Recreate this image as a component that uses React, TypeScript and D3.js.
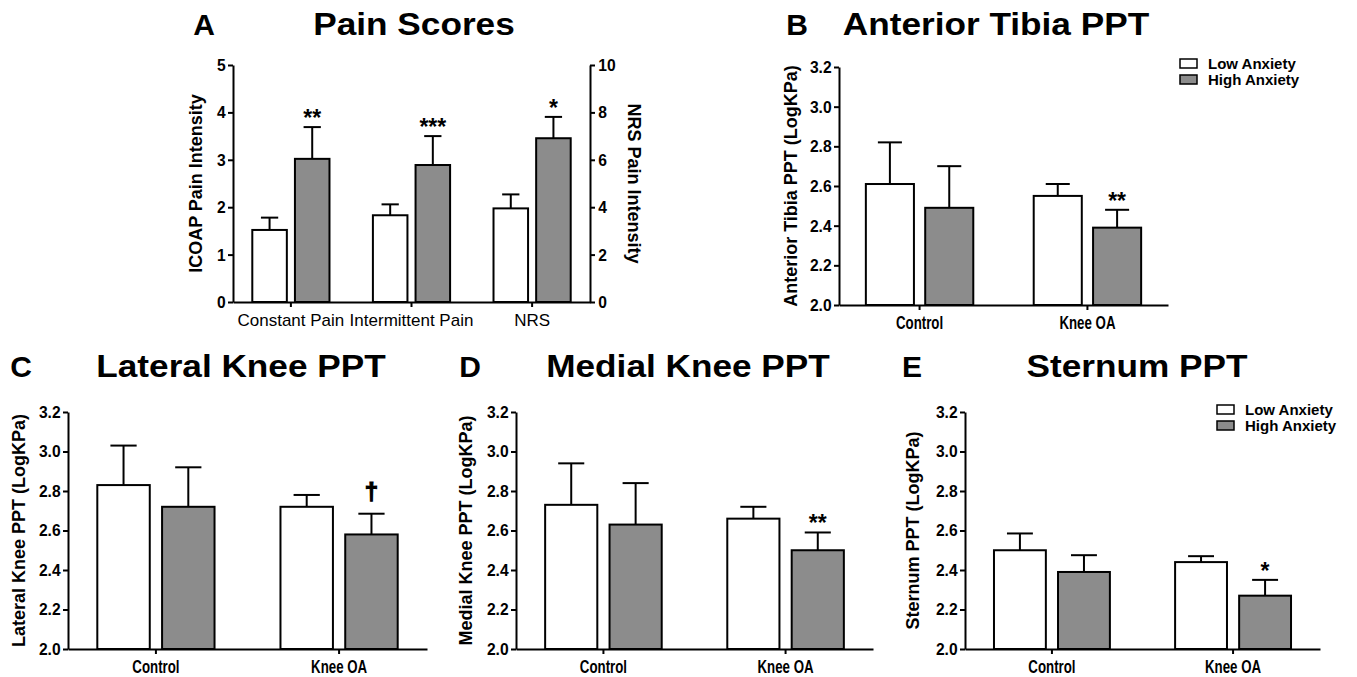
import React, { useEffect, useRef } from 'react';
import * as d3 from 'd3';

const WIDTH = 1357;
const HEIGHT = 677;
const FONT = '"Liberation Sans", Arial, Helvetica, sans-serif';
const GREY = '#8c8c8c';

const seriesNames = ['Low Anxiety', 'High Anxiety'];

// Panel A - pain scores (NRS is on the right-hand 0-10 axis)
const painCategories = ['Constant Pain', 'Intermittent Pain', 'NRS'];
const painLowMean = [1.52, 1.83, 3.95];
const painLowSem = [0.26, 0.23, 0.59];
const painHighMean = [3.02, 2.89, 6.91];
const painHighSem = [0.67, 0.61, 0.9];
const painSig = ['**', '***', '*'];
const icoapTicks = [0, 1, 2, 3, 4, 5];
const nrsTicks = [0, 2, 4, 6, 8, 10];

// Panels B-E - pressure pain thresholds
const groups = ['Control', 'Knee OA'];
const pptTicks = [2.0, 2.2, 2.4, 2.6, 2.8, 3.0, 3.2];

const tibiaLow = [2.61, 2.55];
const tibiaLowSem = [0.21, 0.06];
const tibiaHigh = [2.49, 2.39];
const tibiaHighSem = [0.21, 0.09];
const tibiaSig = ['', '**'];

const latLow = [2.83, 2.72];
const latLowSem = [0.2, 0.06];
const latHigh = [2.72, 2.58];
const latHighSem = [0.2, 0.105];
const latSig = ['', '†'];

const medLow = [2.73, 2.66];
const medLowSem = [0.21, 0.06];
const medHigh = [2.63, 2.5];
const medHighSem = [0.21, 0.09];
const medSig = ['', '**'];

const sternLow = [2.5, 2.44];
const sternLowSem = [0.085, 0.03];
const sternHigh = [2.39, 2.27];
const sternHighSem = [0.085, 0.08];
const sternSig = ['', '*'];

type PanelOpts = {
  x0: number; x1: number; top: number; bottom: number;
  categories: string[];
  low: number[]; lowSem: number[]; high: number[]; highSem: number[];
  sig: string[];
  yScale: d3.ScaleLinear<number, number>;
  yFor?: (i: number) => d3.ScaleLinear<number, number>;
  ticks: number[];
  tickFmt: (d: number) => string;
  yLabel: string; yLabelX: number;
  letter: string; letterX: number;
  title: string; titleX: number; titleY: number;
  boldCats: boolean;
  legend?: { x: number; y: number };
};

function styleTicks(axis: any, dx: number) {
  axis.select('.domain').attr('stroke-width', 2);
  axis.selectAll('.tick line').attr('stroke-width', 2);
  axis.selectAll('text')
    .attr('x', dx)
    .attr('transform', 'scale(0.92,1)')
    .style('font-family', FONT).style('font-weight', 'bold').style('font-size', '17px');
}

function drawPanel(svg: d3.Selection<SVGSVGElement, unknown, null, undefined>, o: PanelOpts) {
  const g = svg.append('g');
  const xGroup = d3.scaleBand().domain(o.categories).range([o.x0, o.x1]).paddingInner(0.36).paddingOuter(0.16);
  const xSeries = d3.scaleBand().domain(seriesNames).range([0, xGroup.bandwidth()]).paddingInner(0.19);
  const bw = xSeries.bandwidth();

  const rows = o.categories.flatMap((c, i) => [
    { cat: c, i, s: seriesNames[0], mean: o.low[i], sem: o.lowSem[i], mark: '' },
    { cat: c, i, s: seriesNames[1], mean: o.high[i], sem: o.highSem[i], mark: o.sig[i] },
  ]);
  const yOf = (i: number) => (o.yFor ? o.yFor(i) : o.yScale);
  const cx = (d: any) => (xGroup(d.cat) as number) + (xSeries(d.s) as number) + bw / 2;

  // error bars (upper only) go under the bar outline
  g.selectAll('.err').data(rows).enter().append('line')
    .attr('x1', cx).attr('x2', cx)
    .attr('y1', d => yOf(d.i)(d.mean)).attr('y2', d => yOf(d.i)(d.mean + d.sem))
    .attr('stroke', '#000').attr('stroke-width', 2);
  g.selectAll('.cap').data(rows).enter().append('line')
    .attr('x1', d => cx(d) - bw / 4).attr('x2', d => cx(d) + bw / 4)
    .attr('y1', d => yOf(d.i)(d.mean + d.sem)).attr('y2', d => yOf(d.i)(d.mean + d.sem))
    .attr('stroke', '#000').attr('stroke-width', 2);

  g.selectAll('.bar').data(rows).enter().append('rect')
    .attr('x', d => (xGroup(d.cat) as number) + (xSeries(d.s) as number))
    .attr('y', d => yOf(d.i)(d.mean))
    .attr('width', bw)
    .attr('height', d => o.bottom - yOf(d.i)(d.mean))
    .attr('fill', d => (d.s === seriesNames[0] ? '#fff' : GREY))
    .attr('stroke', '#000').attr('stroke-width', 2);

  // significance marks
  g.selectAll('.sig').data(rows.filter(d => d.mark)).enter().append('text')
    .attr('x', cx)
    .attr('y', d => yOf(d.i)(d.mean + d.sem) - (d.mark === '†' ? 14 : 1))
    .attr('text-anchor', 'middle')
    .style('font-family', FONT).style('font-weight', 'bold')
    .style('font-size', d => (d.mark === '†' ? '24px' : '23px'))
    .attr('stroke', d => (d.mark === '†' ? '#000' : 'none'))
    .attr('stroke-width', 1.2)
    .text(d => d.mark);

  // y axis
  const yAxis = g.append('g').attr('transform', `translate(${o.x0},0)`)
    .call(d3.axisLeft(o.yScale).tickValues(o.ticks).tickFormat(o.tickFmt as any).tickSize(5).tickSizeOuter(0));
  styleTicks(yAxis, -8);

  // x axis
  const xAxis = g.append('g').attr('transform', `translate(0,${o.bottom})`)
    .call(d3.axisBottom(xGroup).tickSize(5).tickSizeOuter(0));
  xAxis.select('.domain').attr('stroke-width', 2);
  xAxis.selectAll('.tick line').attr('stroke-width', 2);
  xAxis.selectAll('text')
    .attr('y', o.boldCats ? 11 : 12).attr('dy', '0.71em')
    .style('font-family', FONT)
    .style('font-weight', o.boldCats ? 'bold' : 'normal')
    .style('font-size', o.boldCats ? '19px' : '17px')
    .attr('transform', o.boldCats ? 'scale(0.7,1)' : null);

  // y label
  g.append('text')
    .attr('transform', `translate(${o.yLabelX},${(o.top + o.bottom) / 2}) rotate(-90)`)
    .attr('text-anchor', 'middle')
    .style('font-family', FONT).style('font-weight', 'bold').style('font-size', '18px')
    .text(o.yLabel);

  // letter + title
  g.append('text').attr('x', o.letterX).attr('y', o.titleY)
    .attr('text-anchor', 'middle')
    .style('font-family', FONT).style('font-weight', 'bold').style('font-size', '30px')
    .text(o.letter);
  g.append('text').attr('transform', `translate(${o.titleX},${o.titleY}) scale(1.1,1)`)
    .attr('text-anchor', 'middle')
    .style('font-family', FONT).style('font-weight', 'bold').style('font-size', '32px')
    .text(o.title);

  if (o.legend) {
    const lg = g.append('g').attr('transform', `translate(${o.legend.x},${o.legend.y})`);
    seriesNames.forEach((s, i) => {
      lg.append('rect').attr('x', 0).attr('y', i * 16 - 10).attr('width', 17).attr('height', 9)
        .attr('fill', i === 0 ? '#fff' : GREY).attr('stroke', '#000').attr('stroke-width', 1.5);
      lg.append('text').attr('x', 28).attr('y', i * 16)
        .style('font-family', FONT).style('font-weight', 'bold').style('font-size', '15px')
        .text(s);
    });
  }
  return g;
}

const App: React.FC = () => {
  const svgRef = useRef<SVGSVGElement>(null);

  useEffect(() => {
    if (!svgRef.current) return;
    const svg = d3.select(svgRef.current);
    svg.selectAll('*').remove();

    // Panel A
    const aTop = 65, aBottom = 302, aX0 = 233, aX1 = 590;
    const yIcoap = d3.scaleLinear().domain([0, 5]).range([aBottom, aTop]);
    const yNrs = d3.scaleLinear().domain([0, 10]).range([aBottom, aTop]);
    const gA = drawPanel(svg, {
      x0: aX0, x1: aX1, top: aTop, bottom: aBottom,
      categories: painCategories,
      low: painLowMean, lowSem: painLowSem, high: painHighMean, highSem: painHighSem,
      sig: painSig,
      yScale: yIcoap,
      yFor: i => (painCategories[i] === 'NRS' ? yNrs : yIcoap),
      ticks: icoapTicks, tickFmt: d => String(d),
      yLabel: 'ICOAP Pain Intensity', yLabelX: 202,
      letter: 'A', letterX: 204, title: 'Pain Scores', titleX: 414, titleY: 35,
      boldCats: false,
    });
    const rAxis = gA.append('g').attr('transform', `translate(${aX1},0)`)
      .call(d3.axisRight(yNrs).tickValues(nrsTicks).tickSize(5).tickSizeOuter(0));
    styleTicks(rAxis, 9);
    gA.append('text')
      .attr('transform', `translate(628,${(aTop + aBottom) / 2}) rotate(90)`)
      .attr('text-anchor', 'middle')
      .style('font-family', FONT).style('font-weight', 'bold').style('font-size', '18px')
      .text('NRS Pain Intensity');

    const fmt = (d: number) => d.toFixed(1);
    const yB = d3.scaleLinear().domain([2, 3.2]).range([305, 67]);
    drawPanel(svg, {
      x0: 839, x1: 1168, top: 67, bottom: 305, categories: groups,
      low: tibiaLow, lowSem: tibiaLowSem, high: tibiaHigh, highSem: tibiaHighSem, sig: tibiaSig,
      yScale: yB, ticks: pptTicks, tickFmt: fmt,
      yLabel: 'Anterior Tibia PPT (LogKPa)', yLabelX: 797,
      letter: 'B', letterX: 797, title: 'Anterior Tibia PPT', titleX: 996, titleY: 35,
      boldCats: true, legend: { x: 1180, y: 69 },
    });

    const top2 = 412, bottom2 = 649;
    const yRow2 = d3.scaleLinear().domain([2, 3.2]).range([bottom2, top2]);
    drawPanel(svg, {
      x0: 68, x1: 427, top: top2, bottom: bottom2, categories: groups,
      low: latLow, lowSem: latLowSem, high: latHigh, highSem: latHighSem, sig: latSig,
      yScale: yRow2, ticks: pptTicks, tickFmt: fmt,
      yLabel: 'Lateral Knee PPT (LogKPa)', yLabelX: 25,
      letter: 'C', letterX: 21, title: 'Lateral Knee PPT', titleX: 241, titleY: 377,
      boldCats: true,
    });
    drawPanel(svg, {
      x0: 516, x1: 873, top: top2, bottom: bottom2, categories: groups,
      low: medLow, lowSem: medLowSem, high: medHigh, highSem: medHighSem, sig: medSig,
      yScale: yRow2, ticks: pptTicks, tickFmt: fmt,
      yLabel: 'Medial Knee PPT (LogKPa)', yLabelX: 472,
      letter: 'D', letterX: 470, title: 'Medial Knee PPT', titleX: 688, titleY: 377,
      boldCats: true,
    });
    drawPanel(svg, {
      x0: 965, x1: 1320, top: top2, bottom: bottom2, categories: groups,
      low: sternLow, lowSem: sternLowSem, high: sternHigh, highSem: sternHighSem, sig: sternSig,
      yScale: yRow2, ticks: pptTicks, tickFmt: fmt,
      yLabel: 'Sternum PPT (LogKPa)', yLabelX: 919,
      letter: 'E', letterX: 912, title: 'Sternum PPT', titleX: 1137, titleY: 377,
      boldCats: true, legend: { x: 1217, y: 415 },
    });
  }, []);

  return (
    <svg
      ref={svgRef}
      width={WIDTH}
      height={HEIGHT}
      style={{ position: 'absolute', left: 0, top: 0, background: '#fff' }}
    />
  );
};

export default App;
